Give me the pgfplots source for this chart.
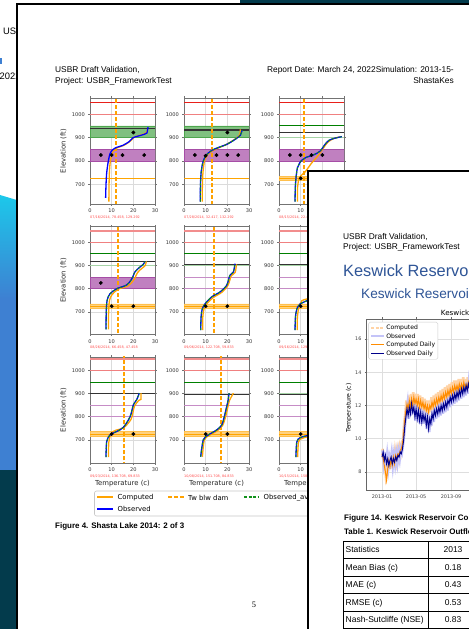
\documentclass[border=0pt]{standalone}
\usepackage{pgfplots}
\pgfplotsset{compat=1.18}
\usepackage{fontspec}
\setmainfont{Liberation Sans}
\newfontfamily\dejavu{DejaVu Sans}
\newfontfamily\serifnum{Liberation Serif}

\definecolor{bgdark}{HTML}{033B4C}
\definecolor{bgcyan}{HTML}{1CC8EA}
\definecolor{bgblue}{HTML}{3E80D2}
\definecolor{mplorange}{HTML}{FFA500}
\definecolor{mplgreen}{HTML}{008000}
\definecolor{mplpurple}{HTML}{800080}
\definecolor{lcoral}{HTML}{F08080}
\definecolor{mplred}{HTML}{E8201A}
\definecolor{kesblue}{HTML}{2F5597}
\definecolor{compdaily}{HTML}{FF8C00}
\definecolor{obsdaily}{HTML}{00008B}
\definecolor{compraw}{HTML}{FFD3A6}
\definecolor{obsraw}{HTML}{C4C4F8}
\definecolor{datered}{HTML}{FF4A4A}
% release temperature and observed-average line colours
\definecolor{twcolor}{HTML}{FFA201}
\definecolor{obsacolor}{HTML}{10901A}
\definecolor{legorange}{HTML}{FFA402}
\definecolor{leggreen}{HTML}{12921C}
% layer shades (solid tints of the line colours)
\definecolor{greenfill}{HTML}{80C080}
\definecolor{greenedge}{HTML}{4DA64D}
\definecolor{purplefill}{HTML}{C080C0}
\definecolor{purpleedge}{HTML}{A64DA6}
\definecolor{orangefill}{HTML}{FFD280}
\definecolor{orangeedge}{HTML}{FFC04D}

\newcommand\fsz[1]{\fontsize{#1}{#1}\selectfont}

\pgfplotsset{
  panel/.style={
    anchor=south west, scale only axis, width=65bp,
    xmin=0, xmax=30, xtick={0,10,20,30}, ytick={700,800,900,1000},
    scaled ticks=false,
    grid=major, major grid style={color=black!14, line width=0.6bp},
    axis line style={color=black!55, line width=0.9bp},
    tick style={color=black!55, line width=0.5bp}, major tick length=1.6bp, tick align=outside,
    tick label style={font=\dejavu\fsz{5.1}, color=black!80},
    /pgf/number format/assume math mode=true,
    /pgf/number format/set thousands separator={},
    label style={font=\dejavu\fsz{6.9}, color=black!85},
    ylabel style={at={(axis description cs:-0.41,0.5)}, anchor=center},
    xlabel style={at={(axis description cs:0.5,-0.19)}, anchor=center},
  },
  prow1/.style={height=106bp, ymin=615, ymax=1070},
  prow2/.style={height=107.6bp, ymin=604, ymax=1067},
  prow3/.style={height=106bp, ymin=600, ymax=1058},
}
\tikzset{
  red top/.style={color=mplred, line width=0.9bp},
  pink top/.style={color=lcoral!90, line width=2bp},
  pink line/.style={color=lcoral, line width=0.9bp},
  green line/.style={color=mplgreen, line width=0.9bp},
  pale green/.style={color=mplgreen!35, line width=1.1bp},
  black line/.style={color=black!80, line width=1.5bp},
  purple line/.style={color=mplpurple!45, line width=1.1bp},
  orange line/.style={color=mplorange, line width=0.9bp},
  green band/.style={color=greenedge, fill=greenfill, line width=0.6bp},
  purple band/.style={color=purpleedge, fill=purplefill, line width=0.6bp},
  orange band/.style={color=orangeedge, fill=orangefill, line width=0.5bp},
  tw line/.style={color=twcolor, line width=1.8bp, dash pattern=on 4bp off 2bp},
  comp/.style={color=mplorange, line width=1.3bp, smooth, tension=0.5},
  obs/.style={color=blue, line width=1.3bp, smooth, tension=0.5},
  obsa/.style={color=obsacolor, line width=1bp, dash pattern=on 2.5bp off 1.5bp, smooth, tension=0.5},
  dots/.style={only marks, mark=*, mark size=1.7bp, color=black},
  datetxt/.style={anchor=west, inner sep=0, font=\dejavu\fsz{3.4}, color=datered},
}
% horizontal level across a panel, a shaded layer, and the release temperature
\newcommand\hlev[2]{\addplot[#1] coordinates {(0,#2) (30,#2)};}
\newcommand\blev[3]{\addplot[#1] coordinates {(0,#2) (30,#2) (30,#3) (0,#3) (0,#2)};}
\newcommand\twlev[1]{\addplot[tw line] coordinates {(#1,560) (#1,1100)};}
\newcommand\orangeband{\blev{orange band}{715}{735}\hlev{orange line}{725}}
\newcommand\purplelines{\hlev{purple line}{850}\hlev{purple line}{800}}

\begin{document}
\begin{tikzpicture}[x=1bp,y=1bp]
\path[use as bounding box] (0,0) rectangle (469,629);
\clip (0,0) rectangle (469,629);

% ---- slide behind the pages
\fill[white] (0,0) rectangle (469,629);
\fill[bgdark] (0,0) rectangle (469,159);
\shade[top color=bgcyan, bottom color=bgblue] (0,434) -- (20,428) -- (20,330) -- (0,330) -- cycle;
\fill[bgblue] (0,159) rectangle (20,331);
\fill[bgdark] (240,625) rectangle (469,629);
\node[anchor=base west, inner sep=0, font=\fsz{9.4}] at (3,594) {USBR};
\node[anchor=base west, inner sep=0, font=\fsz{9.4}] at (-0.5,549) {2022};
\fill[bgblue] (0,565) rectangle (1.6,571);

% ---- page 1
\draw[color=black, line width=2bp, fill=white] (16.5,625) rectangle (490,-20);
\node[anchor=base west, inner sep=0, font=\fsz{8.4}] at (55,556.3) {USBR Draft Validation,};
\node[anchor=base west, inner sep=0, font=\fsz{8.4}] at (55,545.7) {Project: USBR\_FrameworkTest};
\node[anchor=base east, inner sep=0, font=\fsz{8.4}] at (454,556.3) {Report Date: March 24, 2022Simulation: 2013-15-};
\node[anchor=base east, inner sep=0, font=\fsz{8.4}] at (454,545.7) {ShastaKes};

% row 1
\begin{axis}[panel, prow1, at={(90bp,425bp)}, name=p11, ylabel={Elevation (ft)}]
  \hlev{red top}{1050}\hlev{pink line}{1000}
  \blev{green band}{900}{950}\hlev{black line}{940}
  \blev{purple band}{800}{850}\hlev{orange line}{725}
  \twlev{12}
  \addplot[comp] coordinates {(8.7,625)(8.8,700)(9.0,760)(9.5,805)(10.5,838)(12.5,856)(15.5,866)(18.5,884)(20.5,902)(23,910)(25.5,918)(26.2,925)(26.5,935)};
  \addplot[obs] coordinates {(7.2,641)(7.4,700)(7.7,748)(8.3,790)(9.2,830)(10.5,848)(12.3,858)(15,866)(18,882)(19.8,899)(22,906)(25,914)(26.3,920)(26.5,930)(26.8,945)};
  \addplot[dots] coordinates {(5,825)(10,825)(15,825)(25,825)(20,922)};
\end{axis}
\node[datetxt] at ([yshift=-13.5bp]p11.south west) {07/16/2014, 78.458, 129.292};

\begin{axis}[panel, prow1, at={(184bp,425bp)}, name=p12]
  \hlev{red top}{1050}\hlev{pink line}{1000}
  \blev{green band}{900}{950}\hlev{black line}{932}
  \blev{purple band}{800}{850}\hlev{orange line}{725}
  \twlev{12.8}
  \addplot[comp] coordinates {(8.4,625)(8.5,700)(8.8,755)(9.5,800)(11,828)(13.5,845)(16.5,858)(19.5,870)(22,884)(24.5,900)(25.8,915)(26,935)};
  \addplot[obs] coordinates {(7.5,625)(7.6,700)(7.9,750)(8.6,790)(9.6,815)(11,832)(13,846)(16,858)(19,868)(21.5,880)(24,895)(26,910)(26.8,932)};
  \addplot[obsa] coordinates {(7.5,625)(7.6,700)(7.9,750)(8.6,790)(9.6,815)(11,832)(13,846)(16,858)(19,868)(21.5,880)(24,895)(26,910)(26.8,932)};
  \addplot[dots] coordinates {(5,825)(10,822)(15,825)(20,825)(25,825)(20,922)};
\end{axis}
\node[datetxt] at ([yshift=-13.5bp]p12.south west) {07/28/2014, 32.417, 132.292};

\begin{axis}[panel, prow1, at={(279bp,425bp)}, name=p13]
  \hlev{red top}{1050}\hlev{pink line}{1000}
  \hlev{green line}{950}\hlev{pale green}{900}\hlev{black line}{922}
  \blev{purple band}{800}{850}\orangeband
  \twlev{11.5}
  \addplot[comp] coordinates {(8.5,625)(8.6,690)(9.5,730)(12,752)(15,790)(18,822)(20.5,855)(22.5,880)(25,895)(28,903)};
  \addplot[obs] coordinates {(7.4,625)(7.6,700)(8.5,770)(10.5,803)(12.5,815)(16,826)(19,842)(21,868)(23,888)(26,898)(29,904)};
  \addplot[obsa] coordinates {(7.4,625)(7.6,700)(8.5,770)(10.5,803)(12.5,815)(16,826)(19,842)(21,868)(23,888)(26,898)(29,904)};
  \addplot[dots] coordinates {(5,825)(10,825)(15,825)(20,825)(10,725)};
\end{axis}
\node[datetxt] at ([yshift=-13.5bp]p13.south west) {08/15/2014, 22.417, 97.292};

% row 2
\begin{axis}[panel, prow2, at={(90bp,294.7bp)}, name=p21, ylabel={Elevation (ft)}]
  \hlev{pink top}{1050}\hlev{pink line}{1000}
  \hlev{green line}{950}\hlev{pale green}{900}\hlev{black line}{918}
  \blev{purple band}{800}{850}\orangeband
  \twlev{12.8}
  \addplot[comp] coordinates {(8.5,625)(8.6,700)(9.0,750)(10.2,775)(13,798)(17.5,812)(20.2,838)(22,870)(24,888)(25.5,900)(26,918)};
  \addplot[obs] coordinates {(7.4,625)(7.5,700)(7.9,750)(9.2,778)(12.3,800)(16.9,816)(19.2,841)(20.8,873)(23,893)(24.6,905)(25.4,918)};
  \addplot[obsa] coordinates {(7.4,625)(7.5,700)(7.9,750)(9.2,778)(12.3,800)(16.9,816)(19.2,841)(20.8,873)(23,893)(24.6,905)(25.4,918)};
  \addplot[dots] coordinates {(5,825)(10,725)(20,725)};
\end{axis}
\node[datetxt] at ([yshift=-13.5bp]p21.south west) {08/26/2014, 66.458, 47.458};

\begin{axis}[panel, prow2, at={(184bp,294.7bp)}, name=p22]
  \hlev{pink top}{1050}\hlev{pink line}{1000}
  \hlev{green line}{950}\hlev{pale green}{900}\hlev{black line}{905}
  \purplelines\orangeband
  \twlev{13.8}
  \addplot[comp] coordinates {(8.6,622)(8.7,680)(9.2,712)(10.5,735)(13.5,762)(17.5,785)(20.3,815)(21.8,855)(23.6,870)(24.2,905)};
  \addplot[obs] coordinates {(7.7,622)(7.9,680)(8.4,712)(9.7,735)(12.8,765)(16.6,786)(19.7,815)(21.2,858)(22.8,872)(23.5,908)};
  \addplot[obsa] coordinates {(7.7,622)(7.9,680)(8.4,712)(9.7,735)(12.8,765)(16.6,786)(19.7,815)(21.2,858)(22.8,872)(23.5,908)};
  \addplot[dots] coordinates {(10,725)(20,725)};
\end{axis}
\node[datetxt] at ([yshift=-13.5bp]p22.south west) {09/06/2014, 122.708, 59.833};

\begin{axis}[panel, prow2, at={(279bp,294.7bp)}, name=p23]
  \hlev{pink top}{1050}\hlev{pink line}{1000}
  \hlev{green line}{950}\hlev{pale green}{900}\hlev{black line}{905}
  \purplelines\orangeband
  \twlev{15}
  \addplot[comp] coordinates {(8.4,622)(8.5,680)(9.2,720)(10.5,748)(12.5,755)(15.5,765)(18.5,795)(20.5,835)(22,870)(23.5,888)(24.5,905)};
  \addplot[obs] coordinates {(7.4,622)(7.6,680)(8.3,715)(9.7,734)(12,745)(15,758)(18,790)(20,830)(21.5,870)(23,890)(24,905)};
  \addplot[obsa] coordinates {(7.4,622)(7.6,680)(8.3,715)(9.7,734)(12,745)(15,758)(18,790)(20,830)(21.5,870)(23,890)(24,905)};
  \addplot[dots] coordinates {(10,725)(20,725)};
\end{axis}
\node[datetxt] at ([yshift=-13.5bp]p23.south west) {09/16/2014, 129.708, 64.833};

% row 3
\begin{axis}[panel, prow3, at={(90bp,166bp)}, name=p31, ylabel={Elevation (ft)}, xlabel={Temperature (c)}]
  \hlev{pink top}{1050}\hlev{pink line}{1000}
  \hlev{green line}{950}\hlev{black line}{900}
  \purplelines\orangeband
  \twlev{15.8}
  \addplot[comp] coordinates {(8.5,625)(8.7,690)(9.8,728)(12,742)(15.5,752)(19,790)(20.5,845)(22.5,870)(23.5,875)(23.5,902)};
  \addplot[obs] coordinates {(7.4,625)(7.7,692)(9.2,721)(12.3,736)(15.4,754)(18.5,800)(20,851)(21.5,873)(22.8,902)};
  \addplot[obsa] coordinates {(7.4,625)(7.7,692)(9.2,721)(12.3,736)(15.4,754)(18.5,800)(20,851)(21.5,873)(22.8,902)};
  \addplot[dots] coordinates {(10,725)(20,725)};
\end{axis}
\node[datetxt] at ([yshift=-13.5bp]p31.south west) {09/23/2014, 136.708, 69.833};

\begin{axis}[panel, prow3, at={(184bp,166bp)}, name=p32, xlabel={Temperature (c)}]
  \hlev{pink top}{1050}\hlev{pink line}{1000}
  \hlev{green line}{950}\hlev{black line}{897}
  \purplelines\orangeband
  \twlev{17.1}
  \addplot[comp] coordinates {(8.5,627)(9.4,700)(11.8,720)(15.5,740)(17.8,762)(19.2,800)(20.3,844)(21,870)(22.8,902)};
  \addplot[obs] coordinates {(7.7,627)(8.9,700)(11.2,721)(15.1,743)(17.4,764)(18.6,800)(19.7,844)(20.4,873)(20.8,902)};
  \addplot[obsa] coordinates {(7.7,627)(8.9,700)(11.2,721)(15.1,743)(17.4,764)(18.6,800)(19.7,844)(20.4,873)(20.8,902)};
  \addplot[dots] coordinates {(10,725)(20,725)};
\end{axis}
\node[datetxt] at ([yshift=-13.5bp]p32.south west) {10/08/2014, 151.708, 84.833};

\begin{axis}[panel, prow3, at={(279bp,166bp)}, name=p33, xlabel={Temperature (c)}]
  \hlev{pink top}{1050}\hlev{pink line}{1000}
  \hlev{green line}{950}\hlev{pale green}{900}\hlev{black line}{897}
  \purplelines\orangeband
  \twlev{18}
  \addplot[comp] coordinates {(8.6,625)(9,690)(10.3,705)(13,713)(16,725)(19,765)(21,825)(22,880)(23,897)};
  \addplot[obs] coordinates {(7.8,625)(8.2,690)(9.5,708)(12,716)(15,725)(18,760)(20,820)(21,880)(21.5,897)};
  \addplot[obsa] coordinates {(7.8,625)(8.2,690)(9.5,708)(12,716)(15,725)(18,760)(20,820)(21,880)(21.5,897)};
  \addplot[dots] coordinates {(10,725)(20,725)};
\end{axis}
\node[datetxt] at ([yshift=-13.5bp]p33.south west) {10/15/2014, 158.708, 91.833};

% legend of the profile panels
\draw[color=black!22, line width=0.6bp, rounded corners=2bp, fill=white] (94.5,138) rectangle (345,113);
\begin{scope}[font=\dejavu\fsz{6.9}]
  \draw[color=legorange, line width=2bp] (97,131.5) -- (113,131.5);
  \node[anchor=west, inner sep=0, color=black] at (117.5,131.3) {Computed};
  \draw[color=twcolor, line width=2bp, dash pattern=on 4bp off 2bp] (168,131.5) -- (184,131.5);
  \node[anchor=west, inner sep=0, color=black] at (188,131.3) {Tw blw dam};
  \draw[color=leggreen, line width=2bp, dash pattern=on 3bp off 1.5bp] (244,131.5) -- (259,131.5);
  \node[anchor=west, inner sep=0, color=black] at (263.5,131.3) {Observed\_avg};
  \draw[color=blue, line width=2bp] (97,120) -- (113,120);
  \node[anchor=west, inner sep=0, color=black] at (117.5,120) {Observed};
\end{scope}
\node[anchor=base west, inner sep=0, font=\bfseries\fsz{8}, color=black] at (55,100.5) {Figure 4. Shasta Lake 2014: 2 of 3};
\node[anchor=base, inner sep=0, font=\serifnum\fsz{8.4}, color=black] at (254,21.7) {5};

% ---- page 2
\draw[color=black, line width=2bp, fill=white] (307.5,458) rectangle (500,-20);
\node[anchor=base west, inner sep=0, font=\fsz{8.4}, color=black] at (343,389.7) {USBR Draft Validation,};
\node[anchor=base west, inner sep=0, font=\fsz{8.4}, color=black] at (343,379) {Project: USBR\_FrameworkTest};
\node[anchor=base west, inner sep=0, font=\fsz{16.4}, color=kesblue] at (343,352.3) {Keswick Reservoir};
\node[anchor=base west, inner sep=0, font=\fsz{13.7}, color=kesblue] at (361,330.7) {Keswick Reservoir Outflow};
\node[anchor=base west, inner sep=0, font=\dejavu\fsz{7.2}, color=black] at (440.7,313) {Keswick Reservoir Outflow Temperature};

\begin{axis}[
  anchor=south west, at={(366.4bp,139bp)}, scale only axis, width=342.2bp, height=171bp,
  xmin=-55, xmax=1150, ymin=6.92, ymax=17.2,
  xtick={0,120,243,365,485,608,730,850,973,1095},
  xticklabels={2013-01,2013-05,2013-09,2014-01,2014-05,2014-09,2015-01,2015-05,2015-09,2016-01},
  ytick={8,10,12,14,16},
  grid=major, major grid style={color=black!13, line width=0.6bp},
  axis line style={color=black!60, line width=0.5bp},
  tick style={color=black!60, line width=0.4bp}, tick align=outside, major tick length=1.5bp,
  tick label style={font=\dejavu\fsz{4.9}, color=black!75},
  /pgf/number format/assume math mode=true,
  ylabel={Temperature (c)},
  ylabel style={font=\dejavu\fsz{6.2}, at={(axis description cs:-0.051,0.48)}, anchor=center, color=black},
  legend style={at={(0,1)}, anchor=north west, xshift=2bp, yshift=-3bp, font=\dejavu\fsz{6.1},
    draw=black!20, rounded corners=1.5bp, inner sep=1.5bp, fill=white, text=black,
    nodes={inner sep=1.2bp}},
  legend cell align=left,
  legend image code/.code={\draw[#1] (0bp,0bp) -- (13bp,0bp);},
]
\addlegendimage{color=compraw, line width=1.4bp, dash pattern=on 3bp off 1.5bp}
\addlegendentry{Computed}
\addlegendimage{color=obsraw, line width=2bp}
\addlegendentry{Observed}
\addlegendimage{color=compdaily, line width=1bp}
\addlegendentry{Computed Daily}
\addlegendimage{color=obsdaily, line width=1bp}
\addlegendentry{Observed Daily}
% hourly computed and observed
\addplot[forget plot, color=compraw, line width=2.6bp] coordinates {
 (2,9.4)(6,8.5)(10,8.6)(14,7.7)(18,8.0)(22,8.9)(26,8.2)(30,9.0)(34,8.3)(38,9.1)(42,8.4)(46,9.2)(50,8.7)(54,9.3)(58,8.9)(62,9.5)(66,9.2)(70,9.8)(74,9.9)(78,10.9)
 (82,11.5)(86,12.3)(90,11.6)(94,12.6)(98,11.7)(102,12.7)(106,11.8)(110,12.8)(114,11.9)(118,12.7)(122,11.8)(126,12.7)(130,11.7)(134,12.6)(138,11.7)(142,12.5)(146,11.6)(150,12.4)(154,11.5)(158,12.3)
 (162,11.4)(166,12.3)(170,11.6)(174,12.5)(178,11.7)(182,12.6)(186,11.8)(190,12.7)(194,11.9)(198,12.8)(202,12.0)(206,12.9)(210,12.1)(214,13.0)(218,12.2)(222,13.1)(226,12.3)(230,13.2)(234,12.4)(238,13.3)
 (242,12.5)(246,13.4)(250,12.6)(254,13.5)(258,12.7)(262,13.5)(266,12.7)(270,13.6)(274,12.8)(278,13.6)(282,12.8)(286,13.7)(290,12.9)(294,13.6)(298,12.8)(302,13.7)(306,12.9)(310,13.6)};
\addplot[forget plot, color=obsraw, line width=2.8bp] coordinates {
 (2,9.3)(6,8.6)(10,9.2)(14,8.4)(18,9.0)(22,8.3)(26,8.9)(30,8.6)(34,9.1)(38,8.4)(42,9.0)(46,8.5)(50,9.1)(54,8.6)(58,9.2)(62,8.8)(66,9.4)(70,9.2)(74,9.7)(78,10.3)
 (82,11.1)(86,11.6)(90,12.1)(94,11.2)(98,12.2)(102,11.4)(106,12.3)(110,11.5)(114,12.1)(118,11.1)(122,12.0)(126,11.0)(130,11.9)(134,10.9)(138,11.8)(142,10.9)(146,11.7)(150,10.9)(154,11.6)(158,10.6)
 (162,11.5)(166,10.4)(170,11.4)(174,10.8)(178,11.7)(182,11.0)(186,11.9)(190,11.2)(194,12.0)(198,11.3)(202,12.1)(206,11.4)(210,12.2)(214,11.5)(218,12.3)(222,11.6)(226,12.4)(230,11.7)(234,12.5)(238,11.9)
 (242,12.7)(246,12.0)(250,12.8)(254,12.1)(258,12.9)(262,12.2)(266,13.0)(270,12.3)(274,13.1)(278,12.4)(282,13.2)(286,12.5)(290,13.3)(294,12.6)(298,13.4)(302,12.7)(306,13.4)(310,12.9)};
% daily means
\addplot[forget plot, color=compdaily, line width=1bp] coordinates {
 (0,9.1)(4,8.8)(8,8.4)(12,8.0)(16,7.5)(20,8.2)(24,8.7)(28,8.3)(32,8.8)(36,8.4)(40,8.9)(44,8.5)(48,9.0)(52,8.8)(56,9.1)(60,9.0)(64,9.3)(68,9.4)(72,9.7)(76,10.3)
 (80,11.1)(84,11.7)(88,12.1)(92,11.8)(96,12.3)(100,11.9)(104,12.4)(108,12.0)(112,12.5)(116,12.1)(120,12.4)(124,12.0)(128,12.4)(132,11.9)(136,12.3)(140,11.9)(144,12.2)(148,11.8)(152,12.1)(156,11.7)
 (160,12.0)(164,11.6)(168,12.0)(172,11.8)(176,12.2)(180,11.9)(184,12.3)(188,12.0)(192,12.4)(196,12.1)(200,12.5)(204,12.2)(208,12.6)(212,12.3)(216,12.7)(220,12.4)(224,12.8)(228,12.5)(232,12.9)(236,12.6)
 (240,13.0)(244,12.7)(248,13.1)(252,12.8)(256,13.2)(260,12.9)(264,13.2)(268,12.9)(272,13.3)(276,13.0)(280,13.3)(284,13.0)(288,13.4)(292,13.1)(296,13.3)(300,13.0)(304,13.4)(308,13.1)(312,13.3)};
\addplot[forget plot, color=obsdaily, line width=1bp] coordinates {
 (0,8.9)(4,9.2)(8,8.7)(12,9.0)(16,8.5)(20,8.8)(24,8.4)(28,8.7)(32,8.9)(36,8.5)(40,8.8)(44,8.6)(48,8.9)(52,8.7)(56,9.0)(60,8.9)(64,9.2)(68,9.1)(72,9.4)(76,9.9)
 (80,10.7)(84,11.3)(88,11.8)(92,11.4)(96,11.9)(100,11.5)(104,12.1)(108,11.6)(112,11.9)(116,11.3)(120,11.8)(124,11.2)(128,11.7)(132,11.1)(136,11.6)(140,11.0)(144,11.5)(148,11.1)(152,11.4)(156,10.8)
 (160,11.3)(164,10.6)(168,11.2)(172,10.9)(176,11.5)(180,11.2)(184,11.7)(188,11.4)(192,11.8)(196,11.5)(200,11.9)(204,11.6)(208,12.0)(212,11.7)(216,12.1)(220,11.8)(224,12.2)(228,11.9)(232,12.3)(236,12.1)
 (240,12.5)(244,12.2)(248,12.6)(252,12.3)(256,12.7)(260,12.4)(264,12.8)(268,12.5)(272,12.9)(276,12.6)(280,13.0)(284,12.7)(288,13.1)(292,12.8)(296,13.2)(300,12.9)(304,13.3)(308,13.0)(312,13.2)};
\end{axis}

\node[anchor=base west, inner sep=0, font=\bfseries\fsz{8}, color=black] at (344,108.3) {Figure 14. Keswick Reservoir Computed and Observed Outflow Temperature};
\node[anchor=base west, inner sep=0, font=\bfseries\fsz{8}, color=black] at (344,94.7) {Table 1. Keswick Reservoir Outflow Temperature Statistics};

% statistics table
\begin{scope}[color=black, line width=0.9bp]
\draw (343.3,88) -- (500,88);
\foreach \yy in {70.3,52.8,35.3,17.8,0.3} {\draw (343.3,\yy) -- (500,\yy);}
\draw (343.3,88) -- (343.3,-10);
\draw (428.3,88) -- (428.3,-10);
\end{scope}
\begin{scope}[font=\fsz{8.5}, inner sep=0, color=black]
  \node[anchor=base west] at (345.5,76.3) {Statistics};
  \node[anchor=base] at (453,76.3) {2013};
  \node[anchor=base west] at (345.5,58.7) {Mean Bias (c)};
  \node[anchor=base] at (453,58.7) {0.18};
  \node[anchor=base west] at (345.5,41.2) {MAE (c)};
  \node[anchor=base] at (453,41.2) {0.43};
  \node[anchor=base west] at (345.5,23.7) {RMSE (c)};
  \node[anchor=base] at (453,23.7) {0.53};
  \node[anchor=base west] at (345.5,6.2) {Nash-Sutcliffe (NSE)};
  \node[anchor=base] at (453,6.2) {0.83};
\end{scope}
\end{tikzpicture}
\end{document}
